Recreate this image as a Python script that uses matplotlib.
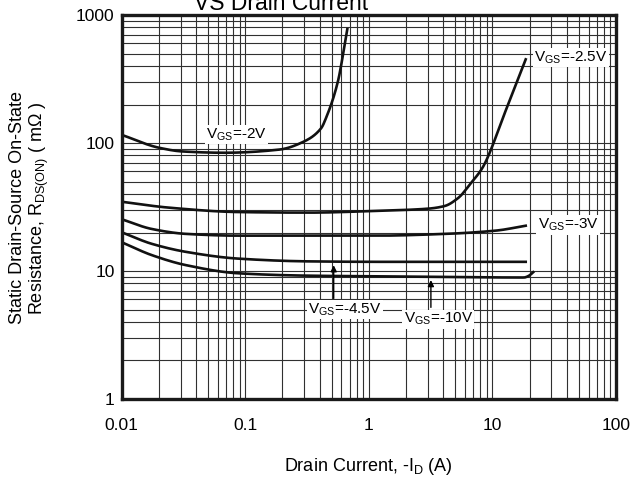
import numpy as np
import matplotlib
matplotlib.use("Agg")
import matplotlib.pyplot as plt

plt.rcParams['font.family'] = ['Liberation Sans', 'DejaVu Sans']
plt.rcParams['mathtext.fontset'] = 'custom'
plt.rcParams['mathtext.rm'] = 'Liberation Sans'
plt.rcParams['mathtext.it'] = 'Liberation Sans'

# On-resistance (mOhm) vs drain current (A) for each gate voltage
id_2v = [0.01, 0.02, 0.031, 0.068, 0.19, 0.30, 0.41, 0.46, 0.56, 0.67]
rds_2v = [116, 92, 86, 84, 89, 103, 130, 165, 298, 776]

id_25v = [0.01, 0.024, 0.088, 0.32, 1.14, 3.0, 4.1, 5.3, 6.7, 8.1, 8.6, 13.0, 18.6]
rds_25v = [34.8, 31.3, 28.9, 28.6, 29.5, 30.7, 32.2, 37.3, 48.6, 61.6, 68, 186, 451]

id_3v = [0.01, 0.0176, 0.0334, 0.088, 1.14, 4.1, 10.7, 18.6]
rds_3v = [25.4, 21.3, 19.5, 18.9, 18.9, 19.5, 20.7, 22.6]

id_45v = [0.01, 0.0176, 0.0334, 0.088, 0.32, 1.14, 18.6]
rds_45v = [20.1, 16.3, 14.1, 12.5, 11.9, 11.8, 11.8]

id_10v = [0.01, 0.0176, 0.0334, 0.088, 0.32, 2.15, 18.0, 19.8, 21.4]
rds_10v = [16.8, 13.3, 11.1, 9.6, 9.2, 9.05, 8.9, 9.2, 9.8]

x_ticks = [0.01, 0.1, 1, 10, 100]
x_tick_labels = ['0.01', '0.1', '1', '10', '100']
y_ticks = [1, 10, 100, 1000]
y_tick_labels = ['1', '10', '100', '1000']


def smooth_log(x, y, n=200):
    # monotone cubic interpolation in log-log space so the curves come out smooth
    lx, ly = np.log10(x), np.log10(y)
    t = np.linspace(lx[0], lx[-1], n)
    h = np.diff(lx)
    d = np.diff(ly) / h
    m = np.zeros_like(lx)
    m[0], m[-1] = d[0], d[-1]
    for i in range(1, len(lx) - 1):
        if d[i - 1] * d[i] <= 0:
            m[i] = 0
        else:
            w1 = 2 * h[i] + h[i - 1]
            w2 = h[i] + 2 * h[i - 1]
            m[i] = (w1 + w2) / (w1 / d[i - 1] + w2 / d[i])
    idx = np.clip(np.searchsorted(lx, t) - 1, 0, len(lx) - 2)
    s = (t - lx[idx]) / h[idx]
    h00 = 2 * s**3 - 3 * s**2 + 1
    h10 = s**3 - 2 * s**2 + s
    h01 = -2 * s**3 + 3 * s**2
    h11 = s**3 - s**2
    yy = h00 * ly[idx] + h10 * h[idx] * m[idx] + h01 * ly[idx + 1] + h11 * h[idx] * m[idx + 1]
    return 10**t, 10**yy


fig = plt.figure(figsize=(6.4, 4.87), dpi=100)
ax = fig.add_axes([0.190, 0.1807, 0.7725, 0.7883])

ax.set_xscale('log')
ax.set_yscale('log')
ax.set_xlim(0.01, 100)
ax.set_ylim(1, 1000)

ax.grid(True, which='both', color='#303030', linewidth=0.8)
ax.set_axisbelow(True)

for xs, ys in [(id_2v, rds_2v), (id_25v, rds_25v), (id_3v, rds_3v),
               (id_45v, rds_45v), (id_10v, rds_10v)]:
    sx, sy = smooth_log(xs, ys)
    ax.plot(sx, sy, color='#111111', linewidth=1.9, zorder=3)

box = dict(facecolor='white', edgecolor='none', pad=1.0)
lab_kw = dict(fontsize=11, ha='center', va='center', bbox=box, zorder=4)
ax.text(0.085, 116, 'V$_{\\mathrm{GS}}$=-2V', **lab_kw)
ax.text(43, 464, 'V$_{\\mathrm{GS}}$=-2.5V', **lab_kw)
ax.text(41, 22.9, 'V$_{\\mathrm{GS}}$=-3V', **lab_kw)
ax.text(0.64, 5.0, 'V$_{\\mathrm{GS}}$=-4.5V', **lab_kw)
ax.text(3.66, 4.2, 'V$_{\\mathrm{GS}}$=-10V', **lab_kw)

arrow = dict(arrowstyle='-|>', color='black', lw=1.0, mutation_scale=9,
             shrinkA=0, shrinkB=0)
ax.annotate('', xy=(0.52, 11.1), xytext=(0.52, 6.1), arrowprops=arrow, zorder=4)
ax.annotate('', xy=(3.18, 8.5), xytext=(3.18, 5.2), arrowprops=arrow, zorder=4)

ax.set_xticks(x_ticks)
ax.set_xticklabels(x_tick_labels)
ax.set_yticks(y_ticks)
ax.set_yticklabels(y_tick_labels)
ax.tick_params(which='both', length=0, labelsize=12.5)
ax.tick_params(axis='x', pad=14)
ax.tick_params(axis='y', pad=5)

for sp in ax.spines.values():
    sp.set_linewidth(2.4)
    sp.set_color('#1a1a1a')
    sp.set_zorder(5)

ax.set_xlabel('Drain Current, -I$_{\\mathrm{D}}$ (A)', fontsize=13, labelpad=16)
fig.text(0.047, 0.573,
         'Static Drain-Source On-State\nResistance, R$_{\\mathrm{DS(ON)}}$ ( m\u03a9 )',
         rotation=90, ha='center', va='center', multialignment='center',
         fontsize=13, linespacing=1.1)

# chart heading, partly above the top edge
fig.text(281 / 640, 1 - 10 / 487, 'VS Drain Current', ha='center', va='baseline',
         fontsize=16.5)

fig.savefig('out.png', dpi=100)
